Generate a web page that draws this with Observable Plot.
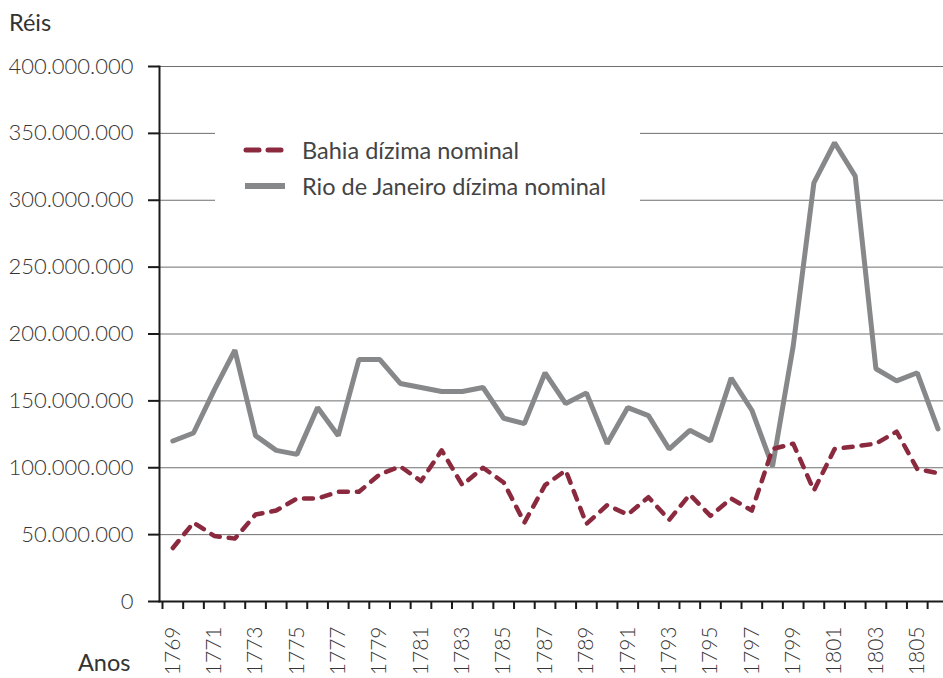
<!DOCTYPE html>
<html><head><meta charset="utf-8">
<script src="https://cdn.jsdelivr.net/npm/d3@7"></script>
<script src="https://cdn.jsdelivr.net/npm/@observablehq/plot@0.6"></script>
<style>
html,body{margin:0;padding:0;background:#fff;overflow:hidden;}
#wrap{position:relative;width:943px;height:678px;font-family:Lato,"Source Sans Pro",sans-serif;}
#wrap svg.chart{position:absolute;left:0;top:0;}
.lab{position:absolute;font-size:23.5px;font-weight:400;color:#333;line-height:1;}
.legend{position:absolute;left:215px;top:126px;width:425px;height:84px;background:#fff;}
.item{position:absolute;left:28px;height:26px;display:flex;align-items:center;font-size:23.5px;color:#444;white-space:nowrap;}
.item svg{margin-right:12px;}
</style></head>
<body><div id="wrap"></div>
<script>
const years = [1769,1770,1771,1772,1773,1774,1775,1776,1777,1778,1779,1780,1781,1782,1783,1784,1785,1786,1787,1788,1789,1790,1791,1792,1793,1794,1795,1796,1797,1798,1799,1800,1801,1802,1803,1804,1805,1806];
// values in millions of réis
const bahia = [40,59,49,47,65,68,77,77,82,82,95,101,90,113,87,100,89,59,87,98,58,72,65,78,61,80,64,77,68,114,118,83,114,116,118,127,99,96];
const rio = [120,126,158,188,124,113,110,145,124,181,181,163,160,157,157,160,137,133,171,148,156,118,145,139,114,128,120,167,143,101,191,313,343,318,174,165,171,129];
const yTicks = [0,50e6,100e6,150e6,200e6,250e6,300e6,350e6,400e6];
const yearLabels = [1769,1771,1773,1775,1777,1779,1781,1783,1785,1787,1789,1791,1793,1795,1797,1799,1801,1803,1805];
const seriesNames = ["Bahia dízima nominal","Rio de Janeiro dízima nominal"];
const colors = ["#8b2a3e","#87888a"];

const bahiaData = years.map((y,i)=>({year:y, v:bahia[i]*1e6}));
const rioData = years.map((y,i)=>({year:y, v:rio[i]*1e6}));
const boundaries = years.map(y=>y-0.5).concat([years[years.length-1]+0.5]);

const loc = d3.formatLocale({decimal:",", thousands:".", grouping:[3], currency:["",""]});
const fmt = loc.format(",d");

const chart = Plot.plot({
  width:943, height:678,
  marginLeft:159, marginTop:66, marginBottom:77, marginRight:0,
  x:{type:"linear", domain:[1768.5,1806.5], range:[162,947.8]},
  y:{domain:[0,400e6]},
  style:{fontFamily:"Lato, 'Source Sans Pro', sans-serif", background:"transparent", overflow:"visible"},
  className:"chart",
  marks:[
    Plot.gridY(yTicks, {stroke:"#6f6f6f", strokeOpacity:1, strokeWidth:1}),
    Plot.line(rioData, {x:"year", y:"v", stroke:colors[1], strokeWidth:5, strokeLinejoin:"miter"}),
    Plot.line(bahiaData, {x:"year", y:"v", stroke:colors[0], strokeWidth:4.5, strokeDasharray:"9,9", strokeLinecap:"round", strokeLinejoin:"round"}),
    Plot.axisY(yTicks, {tickSize:11, tickPadding:15, stroke:"#1a1a1a", strokeWidth:2, tickFormat:fmt, fontSize:22, fill:"#363636", fontWeight:300, label:null}),
    Plot.axisX(boundaries, {tickSize:8, stroke:"#1a1a1a", strokeWidth:2, tickFormat:()=>"", label:null}),
    Plot.axisX(yearLabels, {tickSize:0, tickRotate:-90, tickPadding:25, fontSize:21, fill:"#363636", fontWeight:300, tickFormat:d=>String(d), label:null}),
    Plot.frame({anchor:"left", stroke:"#1a1a1a", strokeWidth:2}),
    Plot.frame({anchor:"bottom", stroke:"#1a1a1a", strokeWidth:2})
  ]
});
const wrap = document.getElementById("wrap");
wrap.appendChild(chart);

const r = document.createElement("div"); r.className="lab"; r.textContent="Réis";
r.style.left="9px"; r.style.top="11px"; wrap.appendChild(r);
const a = document.createElement("div"); a.className="lab"; a.textContent="Anos";
a.style.left="78px"; a.style.top="651px"; wrap.appendChild(a);

const leg = document.createElement("div"); leg.className="legend";
seriesNames.forEach((name,i)=>{
  const it = document.createElement("div"); it.className="item";
  it.style.top = (i===0 ? 11 : 47) + "px";
  const dash = i===0 ? 'stroke-dasharray="13,9" stroke-linecap="round"' : '';
  it.innerHTML = `<svg width="47" height="10"><line x1="${i===0?3:2}" x2="${i===0?45:42}" y1="5" y2="5" stroke="${colors[i]}" stroke-width="${i===0?5:6}" ${dash}/></svg><span>${name}</span>`;
  leg.appendChild(it);
});
wrap.appendChild(leg);
</script>
</body></html>
